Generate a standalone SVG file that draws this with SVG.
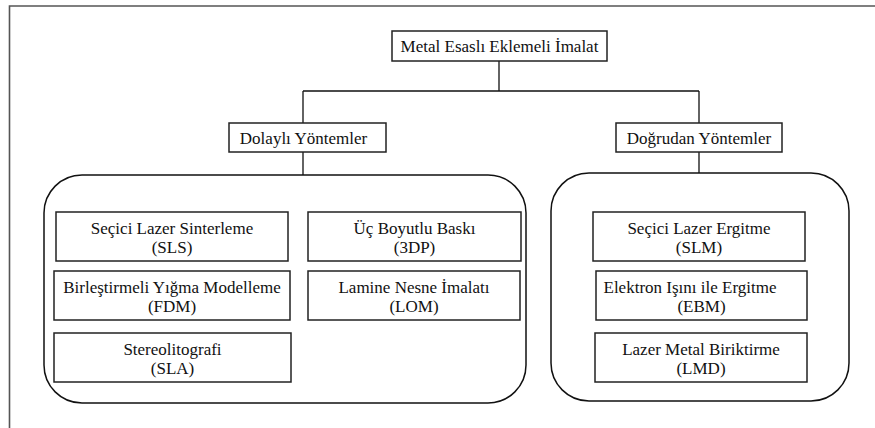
<svg xmlns="http://www.w3.org/2000/svg" width="875" height="428" viewBox="0 0 875 428">
<style>
.bx{fill:#fff;stroke:#222;stroke-width:1.5}
.ct{fill:none;stroke:#111;stroke-width:1.5}
</style>
<rect width="875" height="428" fill="#fff"/>
<path fill="none" stroke="#555" stroke-width="1.6" d="M9.5,428 V6 H875"/>
<g id="connectors" fill="none" stroke="#111" stroke-width="1.3">
<path d="M499,61 V91 M303,91 H699 M303,91 V123 M699,91 V123 M303,152 V175 M699,152 V173"/>
</g>
<g id="container-left"><rect class="ct" x="44" y="175" width="482" height="228" rx="38"/></g>
<g id="container-right"><rect class="ct" x="551" y="173" width="298" height="228" rx="38"/></g>
<g fill="#111" text-anchor="middle" font-family="Times New Roman, Liberation Serif, Tinos, serif" font-size="17">
<g id="root"><rect class="bx" x="392" y="31" width="215" height="30"/><text x="499.5" y="52">Metal Esaslı Eklemeli İmalat</text></g>
<g id="dolayli"><rect class="bx" x="229" y="123" width="157" height="29"/><text x="303.5" y="144">Dolaylı Yöntemler</text></g>
<g id="dogrudan"><rect class="bx" x="616" y="123" width="166" height="29"/><text x="699" y="144">Doğrudan Yöntemler</text></g>
<g id="sls"><rect class="bx" x="56" y="212" width="232" height="49"/><text x="172" y="234">Seçici Lazer Sinterleme</text><text x="172" y="253">(SLS)</text></g>
<g id="3dp"><rect class="bx" x="308" y="212" width="213" height="49"/><text x="414.5" y="234">Üç Boyutlu Baskı</text><text x="414.5" y="253">(3DP)</text></g>
<g id="fdm"><rect class="bx" x="54" y="271" width="236" height="49"/><text x="172" y="293">Birleştirmeli Yığma Modelleme</text><text x="172" y="312">(FDM)</text></g>
<g id="lom"><rect class="bx" x="308" y="271" width="212" height="49"/><text x="414" y="293">Lamine Nesne İmalatı</text><text x="414" y="312">(LOM)</text></g>
<g id="sla"><rect class="bx" x="54" y="333" width="237" height="49"/><text x="172.5" y="355">Stereolitografi</text><text x="172.5" y="374">(SLA)</text></g>
<g id="slm"><rect class="bx" x="593" y="212" width="212" height="49"/><text x="699" y="234">Seçici Lazer Ergitme</text><text x="699" y="253">(SLM)</text></g>
<g id="ebm"><rect class="bx" x="596" y="271" width="211" height="49"/><text x="690" y="293">Elektron Işını ile Ergitme</text><text x="701.5" y="312">(EBM)</text></g>
<g id="lmd"><rect class="bx" x="595" y="333" width="212" height="49"/><text x="701" y="355">Lazer Metal Biriktirme</text><text x="701" y="374">(LMD)</text></g>
</g>
</svg>
